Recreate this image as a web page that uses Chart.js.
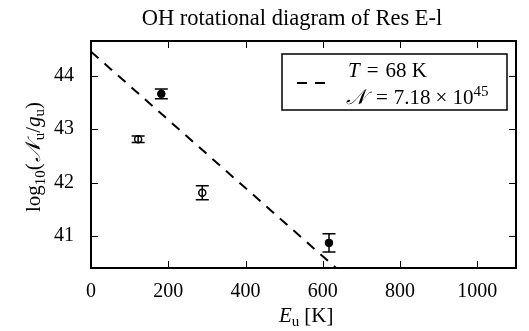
<!DOCTYPE html>
<html>
<head>
<meta charset="utf-8">
<script src="https://cdn.jsdelivr.net/npm/chart.js@4/dist/chart.umd.min.js"></script>
<style>
  html, body { margin: 0; padding: 0; background: #fff; }
  #wrap { width: 529px; height: 331px; }
</style>
</head>
<body>
<div id="wrap"><canvas id="rot"></canvas></div>
<script>
// measured points
const energies = [122, 182, 288, 616];
const logN = [42.81, 43.66, 41.81, 40.87];
const errs = [0.06, 0.09, 0.13, 0.17];
const filled = [false, true, false, true];

// fitted line (T = 68 K), endpoints
const fitX = [0, 650];
const fitY = [44.45, 40.30];

const xTicks = [0, 200, 400, 600, 800, 1000];
const yTicks = [41, 42, 43, 44];

const title = 'OH rotational diagram of Res E-l';
const legendT = '68 K';
const legendN = '7.18';
const legendExp = '45';

const serif = '"Liberation Serif", "DejaVu Serif", serif';

const openPts = [], fullPts = [];
energies.forEach((e, i) => {
  const p = { x: e, y: logN[i], err: errs[i] };
  (filled[i] ? fullPts : openPts).push(p);
});

// draw a run of [text, font, dy, gapAfter] pieces starting at x
function drawRun(c, parts, x, y) {
  parts.forEach(p => {
    c.font = p[1];
    c.fillText(p[0], x, y + (p[2] || 0));
    x += c.measureText(p[0]).width + (p[3] || 0);
  });
  return x;
}
function runWidth(c, parts) {
  let w = 0;
  parts.forEach(p => { c.font = p[1]; w += c.measureText(p[0]).width + (p[3] || 0); });
  return w;
}

const decor = {
  id: 'decor',
  afterDatasetsDraw(chart) {
    const c = chart.ctx;
    const xs = chart.scales.x, ys = chart.scales.y;
    c.save();
    // error bars
    c.strokeStyle = '#000';
    c.lineWidth = 1.5;
    [0, 1].forEach(di => {
      chart.data.datasets[di].data.forEach(p => {
        const px = xs.getPixelForValue(p.x);
        const top = ys.getPixelForValue(p.y + p.err);
        const bot = ys.getPixelForValue(p.y - p.err);
        c.beginPath();
        c.moveTo(px, top); c.lineTo(px, bot);
        c.moveTo(px - 6.5, top); c.lineTo(px + 6.5, top);
        c.moveTo(px - 6.5, bot); c.lineTo(px + 6.5, bot);
        c.stroke();
      });
    });
    c.restore();
  },
  afterDraw(chart) {
    const c = chart.ctx, a = chart.chartArea;
    const xs = chart.scales.x, ys = chart.scales.y;
    c.save();
    // frame
    c.strokeStyle = '#000';
    c.lineWidth = 2;
    c.strokeRect(a.left, a.top, a.right - a.left, a.bottom - a.top);
    // inward ticks on all four sides
    c.lineWidth = 1;
    c.beginPath();
    xTicks.forEach(v => {
      const px = Math.round(xs.getPixelForValue(v)) + 0.5;
      c.moveTo(px, a.bottom); c.lineTo(px, a.bottom - 7);
      c.moveTo(px, a.top); c.lineTo(px, a.top + 7);
    });
    yTicks.forEach(v => {
      const py = Math.round(ys.getPixelForValue(v)) + 0.5;
      c.moveTo(a.left, py); c.lineTo(a.left + 7, py);
      c.moveTo(a.right, py); c.lineTo(a.right - 7, py);
    });
    c.stroke();

    c.fillStyle = '#000';
    c.textBaseline = 'alphabetic';
    // title
    c.font = '22.5px ' + serif;
    c.textAlign = 'center';
    c.fillText(title, 292, 25);

    c.textAlign = 'left';
    const big = '21px ' + serif, bigI = 'italic 21px ' + serif, small = '15px ' + serif;
    // x axis label: E_u [K]
    drawRun(c, [['E', bigI, 0], ['u', small, 4, 5], ['[K]', big, 0]], 279, 322);

    // y axis label: log10(N_u/g_u), rotated
    c.save();
    c.translate(40, 157);
    c.rotate(-Math.PI / 2);
    const parts = [
      ['log', big, 0], ['10', small, 5], ['(', big, 0, 1],
      ['\u{1D4A9}', bigI, 0, 2], ['u', small, 4], ['/', big, 0],
      ['g', bigI, 0], ['u', small, 4], [')', big, 0]
    ];
    drawRun(c, parts, -runWidth(c, parts) / 2, 0);
    c.restore();

    // legend box
    c.fillStyle = '#fff';
    c.fillRect(282, 54, 225, 56);
    c.strokeStyle = '#000';
    c.lineWidth = 1.5;
    c.strokeRect(282, 54, 225, 56);
    c.lineWidth = 2;
    c.setLineDash([10, 8]);
    c.beginPath();
    c.moveTo(297, 83); c.lineTo(330, 83);
    c.stroke();
    c.setLineDash([]);
    c.fillStyle = '#000';
    drawRun(c, [['T', bigI, 0, 7], ['=', big, 0, 7], [legendT, big, 0]], 348, 77);
    drawRun(c, [['\u{1D4A9}', bigI, 0, 10], ['=', big, 0, 6], [legendN, big, 0, 5],
                ['\u00D7', big, 0, 5], ['10', big, 0], [legendExp, small, -8]], 346, 104);
    c.restore();
  }
};

new Chart(document.getElementById('rot').getContext('2d'), {
  type: 'scatter',
  data: {
    datasets: [
      {
        label: 'open',
        data: openPts,
        pointRadius: 3.5,
        pointBorderWidth: 1.5,
        pointBorderColor: '#000',
        pointBackgroundColor: '#fff'
      },
      {
        label: 'filled',
        data: fullPts,
        pointRadius: 3.8,
        pointBorderWidth: 1,
        pointBorderColor: '#000',
        pointBackgroundColor: '#000'
      },
      {
        label: 'fit',
        type: 'line',
        data: fitX.map((v, i) => ({ x: v, y: fitY[i] })),
        borderColor: '#000',
        borderWidth: 2,
        borderDash: [10, 8],
        pointRadius: 0,
        fill: false
      }
    ]
  },
  options: {
    responsive: true,
    maintainAspectRatio: false,
    animation: false,
    layout: { padding: { top: 41, right: 13, left: 0, bottom: 0 } },
    plugins: {
      legend: { display: false },
      title: { display: false },
      tooltip: { enabled: false }
    },
    scales: {
      x: {
        type: 'linear',
        min: 0, max: 1100,
        grid: { display: false },
        border: { display: false },
        afterFit: s => { s.height = 63; },
        afterBuildTicks: s => { s.ticks = xTicks.map(v => ({ value: v })); },
        ticks: {
          padding: 4,
          color: '#000',
          font: { family: serif, size: 20 },
          callback: v => String(v)
        }
      },
      y: {
        type: 'linear',
        min: 40.4, max: 44.65,
        grid: { display: false },
        border: { display: false },
        afterFit: s => { s.width = 91; },
        afterBuildTicks: s => { s.ticks = yTicks.map(v => ({ value: v })); },
        ticks: {
          padding: 9,
          color: '#000',
          font: { family: serif, size: 20 },
          callback: v => String(v)
        }
      }
    }
  },
  plugins: [decor]
});
</script>
</body>
</html>
